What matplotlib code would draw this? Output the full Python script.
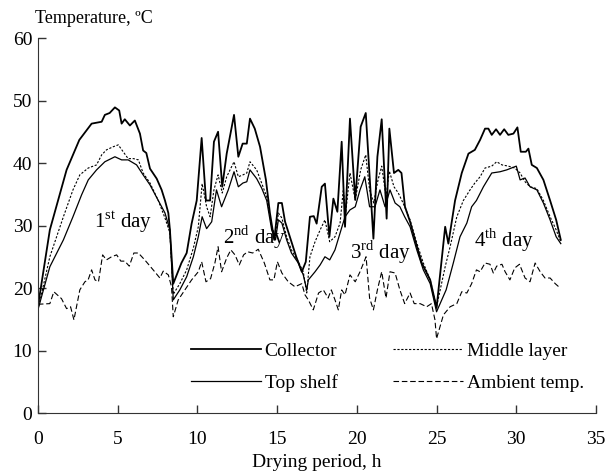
import matplotlib.pyplot as plt

plt.rcParams['font.family'] = ['Liberation Serif', 'DejaVu Serif']
plt.rcParams['mathtext.fontset'] = 'custom'
plt.rcParams['mathtext.rm'] = 'Liberation Serif'

# collector
t_col = [0, 0.75, 1.8, 2.6, 3.37, 4.0, 4.2, 4.5, 4.83, 5.1, 5.25, 5.45, 5.77, 6.08, 6.4, 6.6, 6.8, 7.03, 7.45, 7.76, 7.97, 8.18, 8.28, 8.49,
         9.0, 9.33, 9.64, 9.96, 10.27, 10.54, 10.8, 11.04, 11.3, 11.56, 11.84, 12.3, 12.57, 12.84, 13.1, 13.3, 13.6, 13.93, 14.3, 14.55, 14.82,
         15.08, 15.3, 15.5, 15.8, 16.2, 16.55, 16.8, 17.06, 17.3, 17.48, 17.8, 18.0, 18.28, 18.53, 18.78, 19.05, 19.26, 19.57, 19.9, 20.24,
         20.56, 21.04, 21.29, 21.56, 21.87, 22.04, 22.33, 22.6, 22.8, 23.02, 23.34, 23.65, 24.07, 24.6, 25.0,
         25.54, 25.74, 26.16, 26.58, 27.0, 27.4, 27.73, 28.04, 28.25, 28.46, 28.73, 28.98, 29.24, 29.5, 29.82, 30.07, 30.28, 30.6, 30.76,
         30.97, 31.29, 31.7, 32.12, 32.5, 32.79]
v_col = [17.0, 29.3, 38.9, 43.7, 46.3, 46.6, 47.7, 48.0, 48.9, 48.4, 46.3, 47.0, 46.0, 46.8, 44.7, 42.0, 41.6, 39.1, 37.5, 35.7, 34.0, 32.0, 29.3, 20.7,
         24.0, 25.6, 30.3, 34.0, 44.0, 34.0, 34.0, 43.4, 45.0, 36.2, 41.5, 47.7, 41.0, 43.1, 43.1, 47.1, 45.5, 42.6, 37.3, 32.0, 27.7,
         33.6, 33.6, 30.6, 28.2, 25.0, 22.6, 24.2, 31.4, 31.5, 30.3, 36.2, 36.7, 28.2, 34.3, 32.2, 43.4, 29.8, 47.1, 34.1, 45.8,
         48.0, 27.9, 41.0, 47.0, 31.1, 45.5, 38.4, 38.9, 38.4, 33.0, 30.6, 27.7, 24.0, 21.3, 16.8,
         29.8, 27.1, 34.0, 38.4, 41.5, 42.1, 43.7, 45.5, 45.5, 44.5, 45.4, 44.5, 45.4, 44.5, 44.7, 45.7, 41.8, 41.8, 42.3,
         39.7, 39.2, 37.3, 34.0, 30.9, 27.7]

# top shelf
t_top = [0, 0.75, 1.6, 2.2, 2.74, 3.16, 3.68, 4.2, 4.83, 5.25, 5.66, 6.19, 6.6, 7.03, 7.55, 7.97, 8.28, 8.49,
         8.9, 9.33, 9.75, 10.06, 10.3, 10.58, 10.9, 11.2, 11.52, 11.94, 12.3, 12.57, 12.86, 13.1, 13.3, 13.72, 14.03, 14.35, 14.66, 14.9,
         15.08, 15.3, 15.6, 15.9, 16.33, 16.64, 16.86, 16.96, 17.38, 17.7, 18.0, 18.3, 18.63, 18.95, 19.26, 19.57, 19.9, 20.2, 20.5, 20.8,
         21.14, 21.45, 21.77, 22.08, 22.4, 22.7, 23.0, 23.34, 23.76, 24.17, 24.6, 25.0,
         25.6, 26.05, 26.47, 26.9, 27.2, 27.5, 27.94, 28.46, 28.98, 29.4, 29.7, 30.0, 30.24, 30.55, 30.86, 31.29, 31.7, 32.12, 32.5, 32.79]
v_top = [16.5, 23.4, 27.7, 31.4, 34.9, 37.3, 38.9, 40.2, 41.0, 40.5, 40.5, 39.7, 38.1, 36.5, 34.0, 32.0, 29.3, 18.1,
         19.7, 21.8, 25.0, 28.2, 31.4, 29.5, 30.6, 35.7, 33.0, 35.7, 38.6, 36.2, 36.8, 37.0, 38.9, 37.5, 36.0, 34.0, 29.3, 27.7,
         30.9, 30.4, 27.7, 25.6, 24.0, 22.1, 19.7, 21.3, 22.6, 23.7, 25.0, 24.5, 26.1, 28.8, 31.4, 32.5, 33.0, 35.7, 37.8, 33.0,
         33.0, 35.7, 33.0, 35.7, 33.6, 33.0, 31.4, 29.8, 26.1, 22.9, 20.7, 16.2,
         19.7, 24.0, 28.2, 30.4, 33.0, 34.0, 36.2, 38.4, 38.6, 38.9, 39.2, 39.5, 37.3, 37.6, 36.2, 35.7, 33.6, 30.9, 28.2, 27.1]

# middle layer
t_mid = [0, 0.75, 1.6, 2.2, 2.63, 3.16, 3.68, 4.0, 4.3, 4.72, 5.04, 5.35, 5.66, 6.0, 6.3, 6.6, 7.03, 7.55, 7.97, 8.28, 8.49,
         8.9, 9.33, 9.75, 10.06, 10.3, 10.58, 10.8, 11.04, 11.3, 11.56, 11.84, 12.3, 12.57, 12.86, 13.1, 13.3, 13.72, 14.03, 14.35,
         14.66, 14.9, 15.08, 15.3, 15.6, 15.9, 16.33, 16.64, 16.86, 17.06, 17.38, 17.7, 18.0, 18.3, 18.63, 18.95, 19.15, 19.3, 19.57,
         19.9, 20.24, 20.56, 20.8, 21.06, 21.33, 21.56, 21.83, 22.04, 22.33, 22.6, 22.9, 23.34, 23.76, 24.17, 24.6, 25.0,
         25.54, 25.85, 26.27, 26.68, 27.1, 27.4, 27.73, 28.04, 28.46, 28.77, 29.1, 29.5, 29.9, 30.24, 30.55, 30.86, 31.29, 31.7,
         32.12, 32.5, 32.79]
v_mid = [16.5, 25.0, 31.4, 35.7, 38.1, 39.2, 39.7, 41.3, 42.1, 42.6, 42.9, 41.8, 40.7, 40.7, 40.5, 38.4, 36.8, 34.0, 31.2, 28.8, 19.0,
         20.7, 22.9, 26.4, 29.8, 36.7, 33.0, 31.4, 35.7, 38.1, 35.2, 37.8, 40.2, 37.8, 38.1, 38.4, 40.2, 38.9, 36.8, 34.6,
         29.8, 28.2, 32.0, 31.2, 28.2, 26.1, 24.2, 22.6, 19.2, 25.0, 27.4, 29.3, 30.9, 27.4, 28.2, 30.4, 35.7, 32.0, 38.4,
         34.1, 38.9, 41.3, 35.7, 33.6, 37.3, 39.5, 34.6, 38.7, 36.2, 35.2, 33.6, 30.9, 27.2, 24.0, 21.3, 17.0,
         23.4, 26.6, 31.4, 34.0, 35.7, 36.8, 37.8, 39.2, 39.5, 40.2, 39.7, 39.5, 39.2, 38.4, 37.0, 36.2, 35.9, 34.0,
         31.4, 29.3, 27.4]

# ambient
t_amb = [0, 0.75, 1.0, 1.48, 1.8, 2.05, 2.26, 2.63, 2.95, 3.15, 3.37, 3.58, 3.8, 4.06, 4.3, 4.62, 4.94, 5.2, 5.45, 5.73, 6.02, 6.3,
         6.7, 7.23, 7.65, 7.86, 8.18, 8.38, 8.49, 8.8, 9.22, 9.64, 10.06, 10.27, 10.54, 10.83, 11.1, 11.3, 11.52, 11.84, 12.1, 12.36,
         12.63, 12.9, 13.15, 13.47, 13.82, 14.2, 14.55, 14.8, 15.02, 15.3, 15.7, 16.12, 16.55, 16.75, 16.96, 17.27, 17.6, 17.9, 18.2,
         18.4, 18.63, 18.84, 19.05, 19.26, 19.57, 19.9, 20.2, 20.58, 20.8, 21.04, 21.29, 21.56, 21.83, 22.08, 22.4, 22.7, 23.0, 23.34,
         23.6, 23.97, 24.38, 24.68, 24.9, 25.0, 25.43, 25.85, 26.27, 26.58, 26.9, 27.2, 27.5, 27.73, 28.04, 28.35, 28.56, 28.77, 29.1,
         29.3, 29.6, 29.9, 30.2, 30.55, 30.86, 31.18, 31.5, 31.8, 32.12, 32.44, 32.75]
v_amb = [17.4, 17.5, 19.4, 18.3, 16.7, 17.0, 14.9, 19.7, 21.0, 21.3, 22.9, 21.3, 21.0, 25.3, 24.5, 25.0, 25.3, 24.3, 24.3, 23.5, 25.6, 25.6,
         24.5, 22.9, 21.6, 22.7, 22.1, 20.2, 15.4, 18.1, 19.7, 21.3, 22.6, 24.2, 21.0, 21.5, 24.0, 26.6, 22.6, 24.8, 26.1, 25.3,
         23.7, 25.3, 25.8, 25.6, 26.2, 24.0, 21.3, 21.3, 24.2, 22.4, 21.0, 20.2, 20.7, 18.9, 18.1, 16.5, 19.2, 19.7, 18.4,
         19.7, 18.1, 16.5, 19.7, 18.9, 22.1, 21.0, 22.6, 25.0, 18.4, 16.5, 19.7, 22.6, 18.4, 22.6, 22.4, 19.7, 17.5, 19.2,
         17.5, 17.5, 17.0, 17.5, 14.9, 11.9, 15.7, 17.0, 17.5, 19.4, 19.2, 20.7, 22.9, 22.6, 24.0, 23.8, 22.4, 23.5, 23.8,
         22.6, 21.3, 23.2, 23.8, 21.6, 21.0, 24.0, 22.6, 21.6, 21.6, 20.7, 20.0]

days = ['1$^{\\rm st}$ day', '2$^{\\rm nd}$ day', '3$^{\\rm rd}$ day', '4$^{\\rm th}$ day']
day_x = [5.35, 13.6, 21.5, 29.2]
day_y = [30.6, 28.2, 25.8, 27.7]

fig = plt.figure(figsize=(6.11, 4.75), dpi=100)
ax = fig.add_axes([0.062, 0.1305, 0.9135, 0.7895])

ax.plot(t_col, v_col, color='black', lw=1.3, label='Collector')
ax.plot(t_top, v_top, color='black', lw=0.9, label='Top shelf')
ax.plot(t_mid, v_mid, color='black', lw=0.8, ls=(0, (2, 1.5)), label='Middle layer')
ax.plot(t_amb, v_amb, color='black', lw=0.8, ls=(0, (5, 2.5)), label='Ambient temp.')

for s, x, y in zip(days, day_x, day_y):
    ax.text(x, y, s, fontsize=15, ha='center', va='center')

ax.set_xlim(0, 35)
ax.set_ylim(0, 60)
ax.set_xticks(range(0, 36, 5))
ax.set_yticks(range(0, 61, 10))
ax.tick_params(direction='in', length=6, width=1, labelsize=14, color='#333333')
ax.tick_params(axis='x', pad=13)
ax.tick_params(axis='y', pad=4)
for sp in ['top', 'right']:
    ax.spines[sp].set_visible(False)
for sp in ['left', 'bottom']:
    ax.spines[sp].set_color('#333333')

ax.text(-0.005, 1.03, 'Temperature, ºC', transform=ax.transAxes, fontsize=13, ha='left', va='bottom')
ax.set_xlabel('Drying period, h', fontsize=14, labelpad=4)

ax.legend(loc='upper left', bbox_to_anchor=(0.26, 0.209), ncol=2, frameon=False, fontsize=14,
          handlelength=3.6, handletextpad=0.2, columnspacing=2.87, labelspacing=0.72, borderaxespad=0)

fig.savefig('out.png', dpi=100)
